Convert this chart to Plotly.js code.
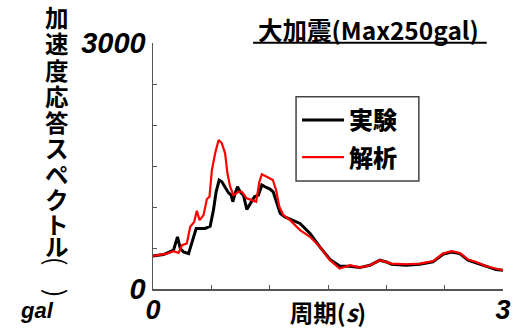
<!DOCTYPE html>
<html><head><meta charset="utf-8">
<script src="https://cdn.plot.ly/plotly-3.0.1.min.js"></script>
<style>body{margin:0;background:#fff}#c{width:528px;height:329px}</style>
</head><body><div id="c"></div>
<script>
// 周期 (s)
const periodExp = [0,0.09,0.176,0.21,0.234,0.262,0.305,0.333,0.37,0.405,0.447,0.49,0.518,0.541,0.567,0.59,0.618,0.647,0.67,0.684,0.704,0.724,0.747,0.775,0.804,0.833,0.87,0.904,0.933,0.96,1.003,1.03,1.06,1.09,1.13,1.175,1.26,1.346,1.43,1.517,1.6,1.69,1.77,1.86,1.944,2.0,2.045,2.17,2.287,2.4,2.486,2.558,2.63,2.7,2.77,2.857,2.94,3.0];
// 実験 (gal)
const accExp = [403,420,473,636,494,452,432,555,738,738,738,766,962,1186,1329,1308,1247,1174,1145,1064,1166,1247,1186,1145,971,1044,1125,1145,1268,1247,1219,1186,1064,922,880,852,800,677,514,361,280,277,261,290,351,330,302,290,302,330,424,452,432,351,318,269,237,228];
const periodAna = [0,0.12,0.176,0.219,0.248,0.29,0.319,0.353,0.376,0.399,0.433,0.462,0.484,0.505,0.533,0.562,0.59,0.618,0.638,0.661,0.69,0.733,0.761,0.804,0.847,0.884,0.912,0.933,0.975,1.027,1.055,1.083,1.117,1.175,1.26,1.346,1.43,1.517,1.6,1.69,1.77,1.86,1.944,2.0,2.045,2.17,2.287,2.4,2.486,2.558,2.63,2.7,2.77,2.857,2.94,3.0];
// 解析 (gal)
const accAna = [403,432,461,440,534,555,758,819,953,840,901,1097,1125,1451,1655,1818,1777,1655,1411,1247,1145,1186,1186,1105,1084,1064,1308,1398,1369,1329,1207,1002,901,840,718,636,514,351,249,290,261,290,351,330,310,302,310,339,432,461,440,359,330,277,249,228];
const xTickVals = [0,0.5,1,1.5,2,2.5,3], xTickText = ['0','','','','','','3'];
const yTickVals = [0,500,1000,1500,2000,2500,3000], yTickText = ['0','','','','','','3000'];
const yTitleChars = ['加','速','度','応','答','ス','ペ','ク','ト','ル'];

const jp = '"Noto Sans CJK JP", sans-serif';
const num = '"Liberation Sans", Arial, sans-serif';

const traces = [
  {x: periodExp, y: accExp, name: '実験', mode: 'lines', line: {color: '#000', width: 3}, legendgroup: 'a'},
  {x: periodAna, y: accAna, name: '解析', mode: 'lines', line: {color: '#ff0000', width: 2.2}, legendgroup: 'b'}
];

const H = 245.4, W = 350.6, L = 152.7, B = 288.7;
const px = v => (v - L) / W, py = v => (B - v) / H;
const charY = [17.5, 43.5, 70, 96, 122, 148.5, 174, 199, 224, 246];
const annotations = yTitleChars.map((ch, i) => ({
  xref: 'paper', yref: 'paper', x: px(57), y: py(charY[i]),
  text: '<b>' + ch + '</b>', showarrow: false, xanchor: 'center', yanchor: 'middle',
  font: {family: jp, size: 23.5, color: '#000', weight: 900}
}));
annotations.push(
  {xref: 'paper', yref: 'paper', x: px(57), y: py(261), text: '(', textangle: 90, showarrow: false,
   xanchor: 'center', yanchor: 'middle', font: {family: jp, size: 26, color: '#000'}},
  {xref: 'paper', yref: 'paper', x: px(57), y: py(293), text: ')', textangle: 90, showarrow: false,
   xanchor: 'center', yanchor: 'middle', font: {family: jp, size: 26, color: '#000'}},
  {xref: 'paper', yref: 'paper', x: px(37), y: py(310), text: '<b><i>gal</i></b>', showarrow: false,
   xanchor: 'center', yanchor: 'middle', font: {family: num, size: 22, color: '#000'}},
  {xref: 'paper', yref: 'paper', x: px(369), y: py(29.5), text: '<b>大加震(Max250gal)</b>', showarrow: false,
   xanchor: 'center', yanchor: 'middle', font: {family: jp, size: 24.5, color: '#000', weight: 900}}
);

const layout = {
  width: 528, height: 329,
  margin: {l: 153, r: 25, t: 43, b: 40},
  paper_bgcolor: '#fff', plot_bgcolor: '#fff',
  showlegend: true,
  legend: {x: px(297), y: py(98), xanchor: 'left', yanchor: 'top',
    bgcolor: 'rgba(0,0,0,0)', borderwidth: 0, tracegroupgap: 3, traceorder: 'grouped',
    font: {family: jp, size: 24, color: '#000', weight: 900}, itemwidth: 42},
  xaxis: {range: [0, 3], showgrid: false, zeroline: false, showline: true, linecolor: '#555', linewidth: 1.5,
    ticks: 'inside', ticklen: 4, tickcolor: '#555',
    tickvals: xTickVals, ticktext: xTickText, ticklabelstandoff: -4,
    tickfont: {family: num, size: 27, color: '#000', weight: 'bold', style: 'italic'},
    title: {text: '<b>周期(<i>s</i>)</b>', font: {family: jp, size: 23.5, color: '#000', weight: 900}, standoff: 0}},
  yaxis: {range: [0, 3000], showgrid: false, zeroline: false, showline: true, linecolor: '#555', linewidth: 1.5,
    ticks: 'inside', ticklen: 4, tickcolor: '#555',
    tickvals: yTickVals, ticktext: yTickText,
    tickfont: {family: num, size: 29, color: '#000', weight: 'bold', style: 'italic'}},
  shapes: [
    {type: 'line', xref: 'paper', yref: 'paper', x0: px(253), x1: px(487),
     y0: py(43), y1: py(43), line: {color: '#000', width: 2}},
    {type: 'rect', xref: 'paper', yref: 'paper', layer: 'above', x0: px(296), x1: px(419),
     y0: py(181), y1: py(97), fillcolor: '#fff', line: {color: '#444', width: 1.5}}
  ],
  annotations: annotations
};
Plotly.newPlot('c', traces, layout, {staticPlot: true});
</script></body></html>
